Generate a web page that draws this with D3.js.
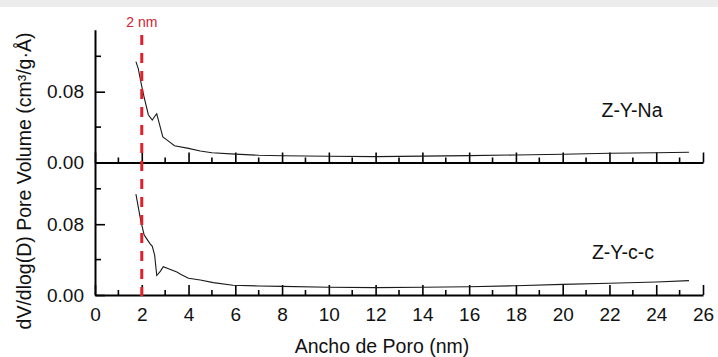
<!DOCTYPE html>
<html>
<head>
<meta charset="utf-8">
<script src="https://cdn.jsdelivr.net/npm/d3@7"></script>
<style>
  html, body { margin: 0; padding: 0; background: #fff; }
  svg { display: block; font-family: Arial, "Liberation Sans", sans-serif; }
</style>
</head>
<body>
<svg id="chart" width="718" height="357"></svg>
<script>
// Pore size distribution (BJH-style dV/dlog(D)) for two zeolite samples
const poreWidthNa = [1.75, 1.85, 2.0, 2.1, 2.28, 2.45, 2.55, 2.64, 2.72, 2.9, 3.1, 3.4, 4.0, 4.5, 5.0, 6.0, 7.0, 8.0, 10, 12, 14, 16, 18, 20, 22, 24, 25.4];
const volumeNa    = [0.114, 0.106, 0.086, 0.074, 0.054, 0.048, 0.052, 0.055, 0.047, 0.029, 0.025, 0.019, 0.016, 0.013, 0.011, 0.0095, 0.0082, 0.0077, 0.007, 0.0066, 0.0072, 0.0078, 0.0085, 0.0094, 0.0104, 0.011, 0.0115];

const poreWidthCC = [1.75, 1.95, 2.1, 2.2, 2.35, 2.45, 2.55, 2.64, 2.8, 2.92, 3.2, 3.5, 3.7, 4.0, 4.5, 5.06, 5.9, 7, 8, 10, 12, 14, 16, 18, 20, 22, 24, 25.4];
const volumeCC    = [0.114, 0.085, 0.068, 0.064, 0.058, 0.055, 0.045, 0.022, 0.027, 0.032, 0.029, 0.026, 0.023, 0.019, 0.017, 0.014, 0.011, 0.0102, 0.0098, 0.0087, 0.0083, 0.0087, 0.0094, 0.0105, 0.012, 0.0132, 0.0147, 0.0162];

const panels = [
  { name: "Z-Y-Na",  x: poreWidthNa, y: volumeNa },
  { name: "Z-Y-c-c", x: poreWidthCC, y: volumeCC }
];

const xTicks = [0, 2, 4, 6, 8, 10, 12, 14, 16, 18, 20, 22, 24, 26];
const xMinor = [1, 3, 5, 7, 9, 11, 13, 15, 17, 19, 21, 23, 25];
const yTicks = [0.00, 0.08];
const yMinor = [0.04, 0.12];
const markerWidth = 2; // nm
const xTitle = "Ancho de Poro (nm)";
const yTitle = "dV/dlog(D) Pore Volume (cm³/g·Å)";

const svg = d3.select("#chart");

// faint grey band along the top edge
svg.append("rect").attr("x", 0).attr("y", 0).attr("width", 718).attr("height", 7).attr("fill", "#ececec");

const x = d3.scaleLinear().domain([0, 26]).range([95, 703]);
const panelBottoms = [162.5, 295];
const panelHeight = 132.75;

panels.forEach((p, i) => {
  const base = panelBottoms[i];
  const y = d3.scaleLinear().domain([0, 0.15]).range([base, base - panelHeight]);
  const g = svg.append("g");

  // x axis: ticks point inward (up)
  const xa = g.append("g").attr("transform", `translate(0,${base})`)
    .call(d3.axisBottom(x).tickValues(xTicks).tickSizeInner(-10).tickSizeOuter(0)
      .tickFormat(i === 1 ? d3.format("d") : () => ""));
  xa.select(".domain").attr("stroke", "#000").attr("stroke-width", 2);
  xa.selectAll(".tick line").attr("stroke", "#000").attr("stroke-width", 1.6);
  xa.selectAll(".tick text").attr("font-size", 19).attr("fill", "#111").attr("dy", 0).attr("y", 26);
  xa.append("g").selectAll("line").data(xMinor).join("line")
    .attr("x1", d => x(d)).attr("x2", d => x(d)).attr("y1", 0).attr("y2", -5)
    .attr("stroke", "#000").attr("stroke-width", 1.6);

  // y axis: ticks point inward (right)
  const ya = g.append("g").attr("transform", `translate(${x(0)},0)`)
    .call(d3.axisLeft(y).tickValues(yTicks).tickSizeInner(-10).tickSizeOuter(0)
      .tickFormat(d3.format(".2f")));
  ya.select(".domain").attr("stroke", "#000").attr("stroke-width", 2);
  ya.selectAll(".tick line").attr("stroke", "#000").attr("stroke-width", 1.6);
  ya.selectAll(".tick text").attr("font-size", 19).attr("fill", "#111").attr("x", -11);
  ya.append("g").selectAll("line").data(yMinor).join("line")
    .attr("x1", 0).attr("x2", 6).attr("y1", d => y(d)).attr("y2", d => y(d))
    .attr("stroke", "#000").attr("stroke-width", 1.6);

  // distribution curve
  const pts = p.x.map((v, k) => [v, p.y[k]]);
  g.append("path").datum(pts)
    .attr("fill", "none").attr("stroke", "#1a1a1a").attr("stroke-width", 1.1)
    .attr("d", d3.line().x(d => x(d[0])).y(d => y(d[1])));

  // sample label
  g.append("text").attr("x", i === 0 ? 632 : 623).attr("y", base - (i === 0 ? 46 : 36))
    .attr("text-anchor", "middle").attr("font-size", 19.5).attr("fill", "#111").text(p.name);
});

// red dashed marker at 2 nm
svg.append("line").attr("x1", x(markerWidth)).attr("x2", x(markerWidth))
  .attr("y1", 35).attr("y2", 296)
  .attr("stroke", "#e0212b").attr("stroke-width", 3).attr("stroke-dasharray", "10,8");
svg.append("text").attr("x", x(markerWidth)).attr("y", 26.5).attr("text-anchor", "middle")
  .attr("font-size", 14).attr("fill", "#d42030").text(markerWidth + " nm");

// axis titles
svg.append("text").attr("x", 382).attr("y", 353).attr("text-anchor", "middle")
  .attr("font-size", 19.5).attr("fill", "#111").text(xTitle);
svg.append("text").attr("transform", "translate(31,181) rotate(-90)").attr("text-anchor", "middle")
  .attr("font-size", 19.5).attr("fill", "#111").text(yTitle);
</script>
</body>
</html>
